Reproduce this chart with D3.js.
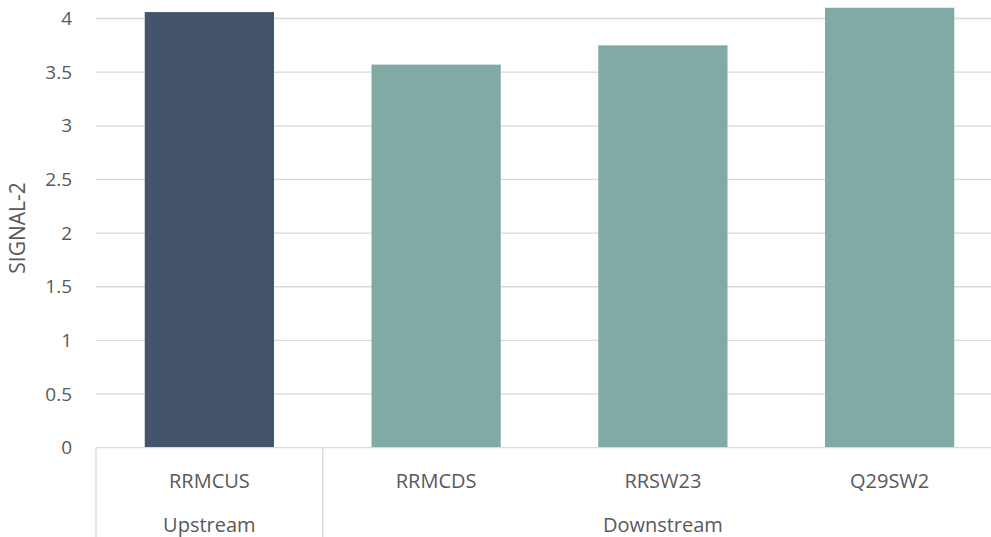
<!DOCTYPE html>
<html>
<head>
<meta charset="utf-8">
<script src="https://cdn.jsdelivr.net/npm/d3@7"></script>
<style>
  html, body { margin: 0; padding: 0; background: #fff; overflow: hidden; }
  svg { display: block; font-family: "Open Sans", "Liberation Sans", sans-serif; }
</style>
</head>
<body>
<svg id="chart" width="991" height="537"></svg>
<script>
// Sites, their group and SIGNAL-2 values
const sites = ["RRMCUS", "RRMCDS", "RRSW23", "Q29SW2"];
const groups = ["Upstream", "Downstream", "Downstream", "Downstream"];
const values = [4.06, 3.57, 3.75, 4.10];
const yTicks = [0, 0.5, 1, 1.5, 2, 2.5, 3, 3.5, 4];
const yTickLabels = ["0", "0.5", "1", "1.5", "2", "2.5", "3", "3.5", "4"];

const svg = d3.select("#chart");
const left = 96, right = 1003, zeroY = 447.7, unit = 107.3;

const x = d3.scaleBand().domain(sites).range([left, right]).paddingInner(0.43).paddingOuter(0.215);
const y = d3.scaleLinear().domain([0, 4.5]).range([zeroY, zeroY - 4.5 * unit]);

const textColor = "#595959";
const gridColor = "#d9d9d9";

// horizontal gridlines
svg.append("g").selectAll("line").data(yTicks.slice(1)).join("line")
  .attr("x1", left).attr("x2", right)
  .attr("y1", d => y(d)).attr("y2", d => y(d))
  .attr("stroke", gridColor).attr("stroke-width", 1.3);

// y tick labels
const yAxis = d3.axisLeft(y).tickValues(yTicks).tickSize(0).tickPadding(0)
  .tickFormat((d, i) => yTickLabels[i]);
const ya = svg.append("g").attr("transform", `translate(${left - 24},0)`).call(yAxis);
ya.select(".domain").remove();
ya.selectAll("text").attr("fill", textColor).attr("font-size", 19)
  .attr("font-family", "'Open Sans', 'Liberation Sans', sans-serif");

// bars
svg.append("g").selectAll("rect").data(sites).join("rect")
  .attr("x", d => x(d))
  .attr("width", x.bandwidth())
  .attr("y", (d, i) => y(values[i]))
  .attr("height", (d, i) => y(0) - y(values[i]))
  .attr("fill", (d, i) => groups[i] === "Upstream" ? "#44546a" : "#82aaa5");

// category axis line
svg.append("line").attr("x1", left).attr("x2", right)
  .attr("y1", zeroY).attr("y2", zeroY)
  .attr("stroke", gridColor).attr("stroke-width", 1.3);

// category labels
svg.append("g").selectAll("text").data(sites).join("text")
  .attr("x", d => x(d) + x.bandwidth() / 2)
  .attr("y", 488)
  .attr("text-anchor", "middle")
  .attr("fill", textColor).attr("font-size", 20)
  .text(d => d);

// group spans and separators
const step = x.step();
const groupSpans = [];
groups.forEach((g, i) => {
  const last = groupSpans[groupSpans.length - 1];
  if (last && last.name === g) last.end = i;
  else groupSpans.push({ name: g, start: i, end: i });
});
const edge = i => left + i * step;
const seps = [0, ...groupSpans.map(s => s.end + 1).filter(i => i < sites.length)];
svg.append("g").selectAll("line").data(seps).join("line")
  .attr("x1", d => edge(d)).attr("x2", d => edge(d))
  .attr("y1", zeroY).attr("y2", 537)
  .attr("stroke", gridColor).attr("stroke-width", 1.3);

svg.append("g").selectAll("text").data(groupSpans).join("text")
  .attr("x", s => (edge(s.start) + edge(s.end + 1)) / 2)
  .attr("y", 532)
  .attr("text-anchor", "middle")
  .attr("fill", textColor).attr("font-size", 20)
  .text(s => s.name);

// y-axis title
svg.append("text")
  .attr("transform", `translate(25,228) rotate(-90)`)
  .attr("text-anchor", "middle")
  .attr("fill", textColor).attr("font-size", 21)
  .text("SIGNAL-2");
</script>
</body>
</html>
